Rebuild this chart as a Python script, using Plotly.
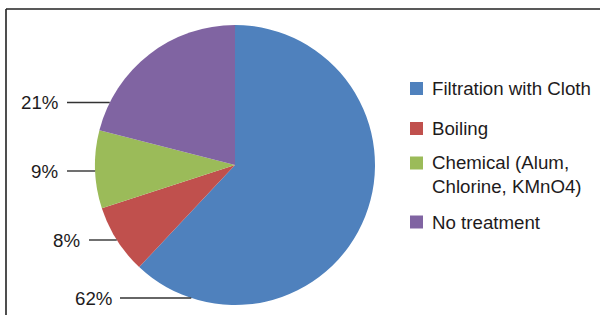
import math
import plotly.graph_objects as go

# ---- data ----
categories = ["Filtration with Cloth", "Boiling", "Chemical (Alum,<br>Chlorine, KMnO4)", "No treatment"]
values = [62, 8, 9, 21]
colors = ["#4F81BD", "#C0504D", "#9BBB59", "#8064A2"]
pct_labels = ["62%", "8%", "9%", "21%"]

W, H = 600, 315
# pie geometry (pixels)
cx, cy, R = 235, 165, 140
# label row (pixel y) for each leader line, and label right edge / line start x
label_y = [298, 240, 171, 102.5]
label_right = [114, 82, 60, 60]
line_start = [120, 89, 67, 67]

FONT = "Liberation Sans, Arial, Helvetica, sans-serif"
TXT = "#1E1B1C"
FS = 18.7

def px(x):
    return x / W

def py(y):
    return 1 - y / H

fig = go.Figure()
fig.add_trace(go.Pie(
    labels=categories, values=values, sort=False, direction="clockwise",
    rotation=0, marker=dict(colors=colors, line=dict(width=0)),
    textinfo="none", hoverinfo="label+percent", showlegend=False,
    domain=dict(x=[px(cx - R), px(cx + R)], y=[py(cy + R), py(cy - R)]),
))

shapes = []
annotations = []
# frame
shapes.append(dict(type="line", xref="paper", yref="paper", x0=px(6), x1=1.0, y0=py(9), y1=py(9),
                   line=dict(color="#222", width=1.6)))
shapes.append(dict(type="line", xref="paper", yref="paper", x0=px(6), x1=px(6), y0=py(9), y1=0,
                   line=dict(color="#222", width=1.6)))

# percent labels with leader lines to pie edge
for lab, ly, lr, ls in zip(pct_labels, label_y, label_right, line_start):
    dy = ly - cy
    ex = cx - math.sqrt(max(R * R - dy * dy, 0))
    shapes.append(dict(type="line", xref="paper", yref="paper", x0=px(ls), x1=px(ex),
                       y0=py(ly), y1=py(ly), line=dict(color="#333", width=1.4)))
    annotations.append(dict(xref="paper", yref="paper", x=px(lr), y=py(ly), text=lab,
                            showarrow=False, xanchor="right", yanchor="middle",
                            font=dict(family=FONT, size=FS, color=TXT)))

# manual legend
leg_y = [88.5, 128.5, 174, 222]
for name, col, ly in zip(categories, colors, leg_y):
    sq_y = ly if "<br>" not in name else ly - 11
    shapes.append(dict(type="rect", xref="paper", yref="paper", x0=px(410), x1=px(423),
                       y0=py(sq_y + 6.5), y1=py(sq_y - 6.5), fillcolor=col, line=dict(width=0)))
    annotations.append(dict(xref="paper", yref="paper", x=px(429.5), y=py(ly), text=name,
                            showarrow=False, xanchor="left", yanchor="middle", align="left",
                            font=dict(family=FONT, size=FS, color=TXT)))

fig.update_layout(
    width=W, height=H, margin=dict(l=0, r=0, t=0, b=0),
    paper_bgcolor="white", plot_bgcolor="white",
    shapes=shapes, annotations=annotations, showlegend=False,
)
fig.write_html("out.html", config={"displayModeBar": False},
               post_script="document.body.style.margin='0';document.body.style.overflow='hidden';")
